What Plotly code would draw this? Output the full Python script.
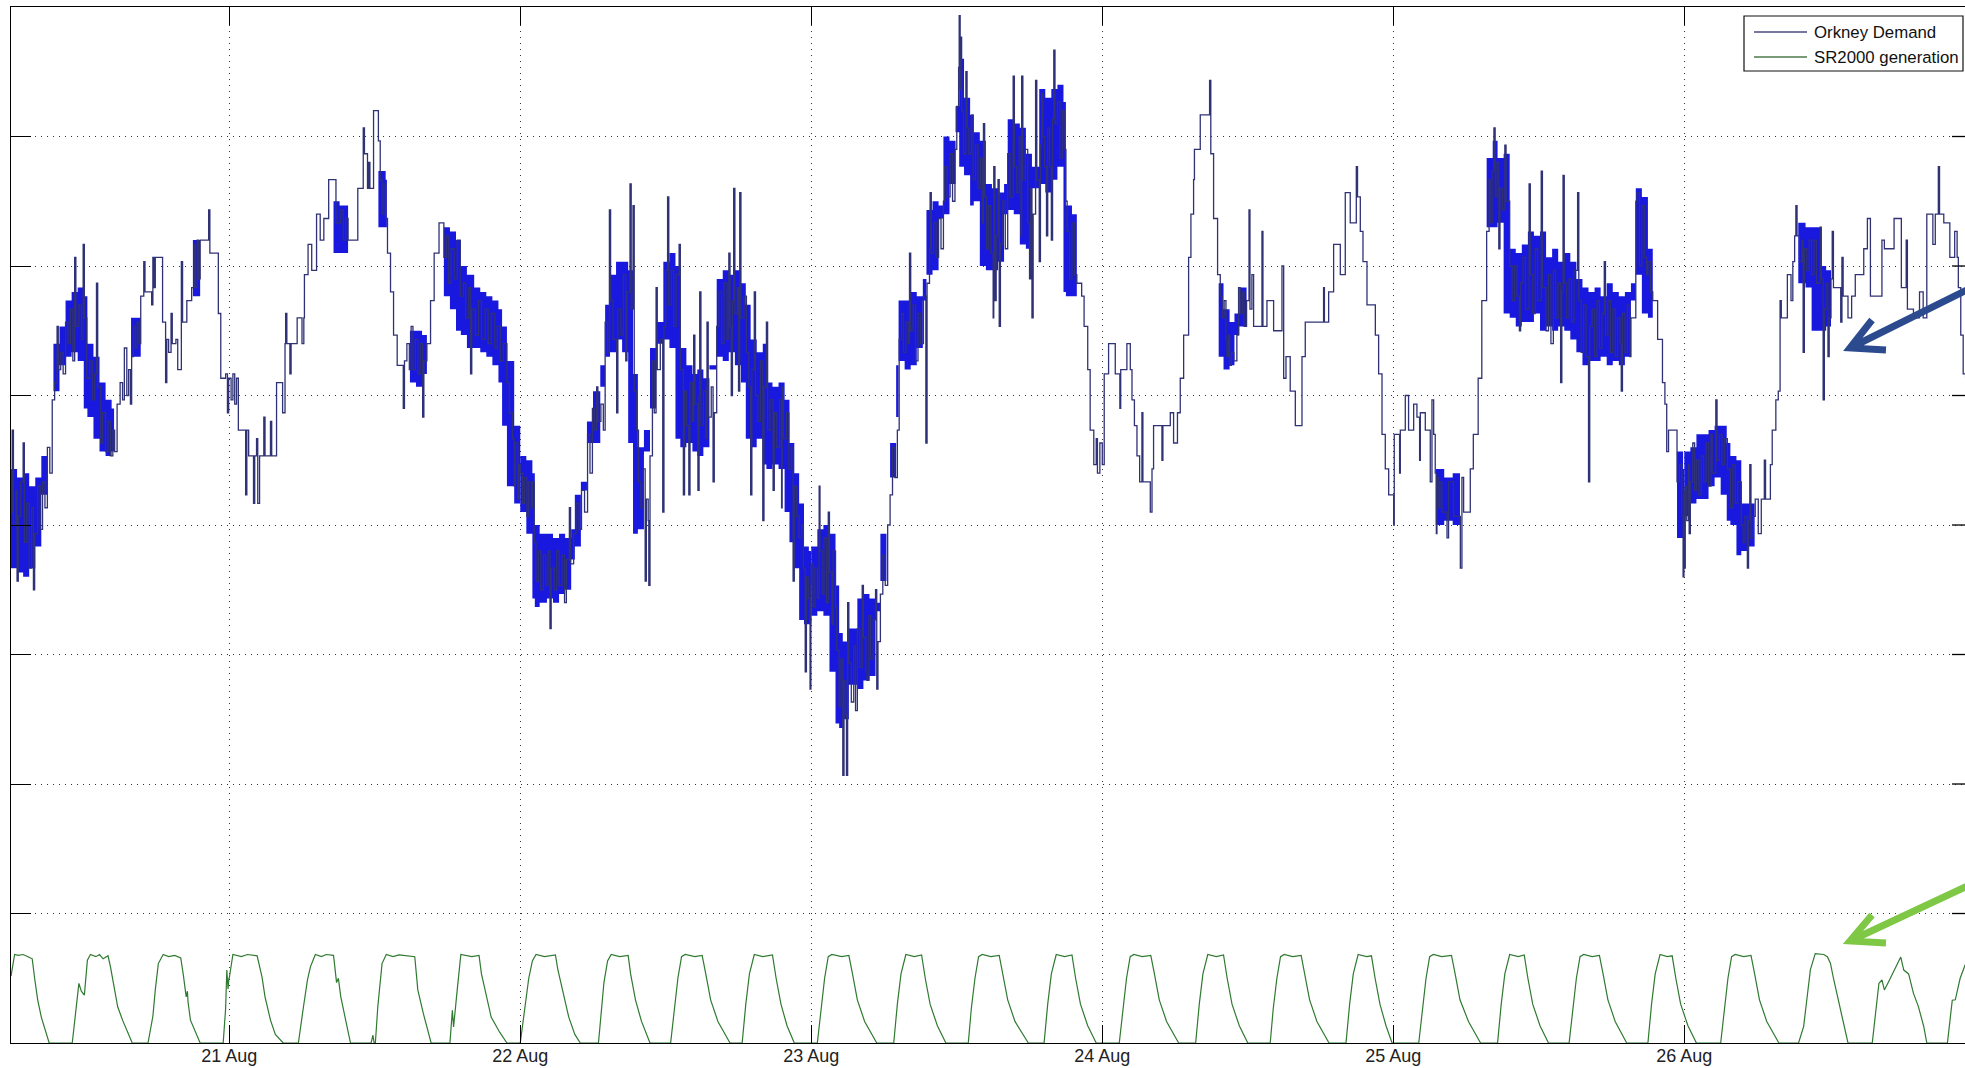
import pandas as pd
import plotly.graph_objects as go

# ---------------------------------------------------------------------------
# Orkney demand (MW), step samples as (hour of day, MW) for each day
# ---------------------------------------------------------------------------
demand_aug20 = [
    (6.0, 12.3), (6.1, 14.2), (6.2, 12.0), (6.4, 12.8), (6.5, 10.7), (6.6, 12.2), (6.8, 13.0),
    (7.0, 13.9), (7.1, 11.6), (7.3, 12.5), (7.5, 11.0), (7.7, 12.4), (7.85, 10.5), (7.95, 11.8),
    (8.2, 12.9), (8.4, 11.9), (8.6, 13.0), (8.8, 12.4), (9.0, 13.8), (9.2, 13.2), (9.4, 14.9),
    (9.6, 15.3), (9.8, 16.6), (9.9, 15.6), (10.1, 16.0), (10.3, 15.5), (10.5, 16.7), (10.7, 16.2),
    (10.9, 17.0), (11.1, 15.8), (11.25, 18.2), (11.35, 16.6), (11.6, 17.1), (11.8, 16.3),
    (11.95, 18.5), (12.05, 16.8), (12.25, 15.4), (12.5, 15.8), (12.7, 14.9), (12.9, 15.5),
    (13.05, 17.6), (13.15, 15.2), (13.4, 13.9), (13.55, 14.6), (13.8, 13.7), (14.0, 14.4),
    (14.2, 13.6), (14.4, 14.2), (14.55, 13.7), (14.75, 14.8), (15.0, 15.3), (15.2, 14.9),
    (15.35, 16.1), (15.55, 15.0), (15.7, 15.6), (15.85, 14.8), (15.95, 15.9), (16.1, 16.6),
    (16.25, 16.1), (16.4, 16.7), (16.55, 16.2), (16.7, 17.3), (16.95, 18.1), (17.05, 17.4),
    (17.6, 17.1), (17.7, 18.2), (17.8, 17.5), (17.9, 18.2), (18.5, 16.7), (18.75, 15.3),
    (18.85, 16.3), (19.0, 16.0), (19.2, 16.9), (19.3, 16.2), (19.6, 16.3), (19.75, 15.6),
    (20.05, 18.1), (20.15, 16.7), (20.5, 17.2), (20.9, 17.5), (21.1, 18.5), (21.2, 17.5),
    (21.35, 18.6), (21.45, 17.7), (21.6, 18.6), (22.3, 19.3), (22.4, 18.3), (23.1, 16.9),
    (23.3, 15.4), (23.7, 15.5), (23.85, 14.6), (23.95, 15.4),
]
demand_aug21 = [
    (0.0, 15.4), (0.15, 14.9), (0.3, 15.5), (0.45, 14.8), (0.6, 15.4), (0.75, 14.2), (1.35, 12.7),
    (1.45, 14.2), (1.6, 13.6), (2.0, 12.5), (2.1, 13.6), (2.25, 14.0), (2.35, 12.5), (2.5, 13.6),
    (2.85, 14.5), (2.95, 13.6), (3.4, 14.4), (3.5, 13.6), (3.9, 15.3), (4.4, 14.6), (4.6, 16.2),
    (4.65, 16.9), (4.75, 16.2), (5.0, 15.5), (5.1, 16.2), (5.6, 16.8), (6.0, 16.2), (6.15, 16.8),
    (6.2, 17.8), (6.5, 18.5), (6.8, 17.9), (7.2, 19.2), (7.5, 18.6), (7.8, 19.1), (8.2, 20.0),
    (8.8, 19.0), (9.2, 19.3), (9.4, 18.6), (9.6, 19.1), (9.8, 18.6), (10.6, 19.8), (11.05, 21.2),
    (11.15, 20.6), (11.4, 19.8), (11.5, 20.4), (11.6, 19.8), (11.9, 21.6), (12.3, 20.9),
    (12.45, 20.0), (12.6, 19.2), (12.75, 19.9), (12.9, 19.1), (13.05, 18.3), (13.3, 17.4),
    (13.55, 16.4), (13.85, 15.7), (14.35, 14.7), (14.45, 15.8), (14.65, 16.2), (14.85, 15.6),
    (15.0, 16.6), (15.15, 15.6), (15.35, 16.3), (15.55, 15.5), (15.75, 16.2), (15.95, 14.5),
    (16.05, 15.8), (16.3, 16.2), (16.6, 17.2), (16.9, 18.3), (17.3, 19.0), (17.7, 18.2),
    (17.9, 18.7), (18.1, 17.6), (18.3, 18.4), (18.55, 17.7), (18.8, 18.6), (19.05, 17.3),
    (19.3, 17.6), (19.5, 16.8), (19.75, 17.5), (19.9, 15.5), (20.0, 17.0), (20.3, 16.4),
    (20.55, 17.2), (20.8, 16.3), (21.1, 17.0), (21.35, 16.2), (21.6, 16.9), (21.9, 16.1),
    (22.1, 16.6), (22.35, 15.8), (22.6, 16.2), (22.9, 15.3), (23.1, 14.6), (23.35, 14.0),
    (23.5, 12.9), (23.6, 13.9), (23.8, 12.6), (23.9, 13.4),
]
demand_aug22 = [
    (0.0, 13.2), (0.2, 12.5), (0.35, 13.1), (0.55, 12.2), (0.7, 13.0), (0.9, 12.4), (1.0, 13.0),
    (1.15, 11.6), (1.3, 10.7), (1.5, 11.4), (1.7, 10.5), (1.9, 11.3), (2.1, 10.6), (2.3, 11.4),
    (2.45, 9.6), (2.55, 11.0), (2.8, 10.5), (3.0, 11.4), (3.2, 10.6), (3.45, 11.3), (3.65, 10.2),
    (3.8, 11.2), (4.05, 12.4), (4.15, 11.1), (4.4, 11.8), (4.6, 12.5), (4.85, 11.9), (5.05, 12.8),
    (5.3, 12.3), (5.55, 14.1), (5.75, 13.2), (5.95, 14.7), (6.1, 14.2), (6.3, 15.2), (6.4, 14.4),
    (6.65, 14.8), (6.85, 14.2), (7.0, 16.7), (7.2, 16.0), (7.35, 19.3), (7.45, 17.2), (7.65, 16.3),
    (7.95, 14.6), (8.05, 17.0), (8.3, 16.4), (8.5, 17.8), (8.7, 15.8), (8.8, 17.4), (9.05, 19.9),
    (9.15, 17.0), (9.3, 19.4), (9.4, 15.1), (9.6, 14.2), (9.75, 13.0), (9.95, 12.4), (10.15, 13.3),
    (10.3, 10.7), (10.4, 12.6), (10.55, 12.1), (10.6, 10.6), (10.7, 13.6), (10.9, 15.8),
    (11.05, 14.6), (11.2, 17.5), (11.3, 15.6), (11.55, 16.3), (11.75, 12.3), (11.85, 16.6),
    (12.0, 17.9), (12.15, 19.6), (12.25, 17.1), (12.45, 17.9), (12.65, 16.6), (12.85, 17.8),
    (13.1, 18.5), (13.2, 15.6), (13.45, 12.7), (13.55, 15.1), (13.7, 14.3), (13.9, 12.7),
    (14.0, 15.3), (14.2, 14.4), (14.3, 16.4), (14.4, 14.8), (14.65, 12.8), (14.75, 15.0),
    (14.8, 17.4), (14.9, 14.3), (15.1, 15.1), (15.3, 14.0), (15.4, 16.7), (15.5, 14.5),
    (15.75, 15.2), (15.9, 13.0), (16.0, 14.6), (16.2, 16.6), (16.4, 17.4), (16.6, 16.2),
    (16.8, 17.6), (17.05, 16.3), (17.2, 18.3), (17.3, 16.6), (17.4, 15.0), (17.5, 17.2),
    (17.6, 19.8), (17.7, 16.9), (17.9, 17.5), (18.0, 15.1), (18.1, 19.7), (18.2, 16.8),
    (18.45, 17.3), (18.65, 16.0), (18.85, 15.2), (19.0, 12.7), (19.1, 15.6), (19.3, 17.4),
    (19.4, 15.0), (19.6, 14.4), (19.8, 15.8), (20.0, 12.1), (20.1, 15.2), (20.3, 16.7),
    (20.4, 14.2), (20.6, 14.9), (20.85, 12.8), (20.95, 14.6), (21.15, 13.8), (21.4, 14.9),
    (21.55, 12.4), (21.6, 15.2), (21.7, 14.0), (21.95, 14.6), (22.15, 13.3), (22.35, 13.8),
    (22.5, 10.7), (22.6, 12.9), (22.8, 12.2), (23.0, 11.7), (23.2, 12.0), (23.35, 11.0),
    (23.5, 8.6), (23.6, 10.8), (23.75, 10.3), (23.9, 8.2), (23.97, 10.6),
]
demand_aug23 = [
    (0.0, 11.1), (0.15, 10.1), (0.3, 11.0), (0.5, 10.3), (0.65, 12.9), (0.72, 11.4), (0.9, 10.4),
    (1.05, 11.7), (1.25, 10.2), (1.4, 12.3), (1.5, 10.9), (1.7, 9.7), (1.8, 11.4), (2.0, 10.1),
    (2.1, 9.1), (2.3, 7.8), (2.45, 8.9), (2.6, 6.2), (2.7, 8.4), (2.85, 7.6), (2.9, 6.2),
    (3.0, 10.2), (3.1, 8.8), (3.3, 7.9), (3.5, 9.2), (3.65, 7.7), (3.8, 9.6), (4.0, 8.7),
    (4.2, 10.6), (4.3, 9.4), (4.5, 8.6), (4.6, 8.4), (4.75, 9.9), (4.9, 8.9), (5.1, 9.8),
    (5.3, 10.5), (5.4, 8.2), (5.5, 9.3), (5.7, 10.4), (5.9, 11.3), (6.1, 10.6), (6.3, 12.0),
    (6.5, 12.7), (6.7, 13.8), (6.9, 13.1), (7.1, 14.2), (7.25, 16.3), (7.45, 16.9), (7.6, 16.0),
    (7.8, 16.7), (8.0, 16.2), (8.1, 18.3), (8.2, 16.5), (8.4, 17.1), (8.6, 15.8), (8.8, 16.9),
    (9.0, 16.2), (9.25, 17.3), (9.45, 13.9), (9.55, 17.6), (9.75, 18.4), (9.8, 19.7), (9.9, 18.3),
    (10.1, 19.0), (10.3, 18.2), (10.5, 19.1), (10.7, 18.4), (10.9, 19.5), (11.0, 20.3),
    (11.2, 19.6), (11.45, 20.6), (11.65, 19.5), (11.85, 20.7), (12.0, 21.7), (12.15, 22.6),
    (12.2, 23.8), (12.28, 22.1), (12.32, 23.3), (12.4, 21.6), (12.55, 20.6), (12.75, 22.5),
    (12.85, 21.2), (13.0, 20.6), (13.2, 21.5), (13.35, 20.0), (13.55, 20.8), (13.75, 19.8),
    (13.95, 20.5), (14.1, 19.0), (14.2, 21.3), (14.3, 19.6), (14.45, 18.4), (14.6, 19.4),
    (14.8, 18.3), (15.0, 16.8), (15.05, 20.3), (15.15, 17.2), (15.25, 18.7), (15.4, 20.0),
    (15.5, 16.6), (15.6, 18.5), (15.8, 19.5), (16.0, 18.4), (16.2, 20.6), (16.4, 19.6),
    (16.65, 22.4), (16.75, 20.3), (16.95, 19.7), (17.15, 21.0), (17.3, 18.7), (17.35, 22.4),
    (17.45, 20.0), (17.65, 20.7), (17.85, 19.0), (18.0, 17.7), (18.1, 19.8), (18.2, 16.8),
    (18.3, 19.2), (18.5, 22.3), (18.6, 20.0), (18.8, 18.1), (18.9, 20.8), (19.0, 22.0),
    (19.1, 21.0), (19.25, 20.3), (19.4, 18.7), (19.5, 21.2), (19.65, 20.3), (19.8, 18.6),
    (19.9, 21.4), (20.0, 23.0), (20.1, 21.3), (20.3, 21.8), (20.5, 20.5), (20.7, 21.6),
    (20.85, 20.7), (21.0, 19.5), (21.1, 18.8), (21.3, 17.7), (21.5, 19.0), (21.7, 17.8),
    (21.9, 17.6), (22.3, 17.3), (22.5, 16.6), (22.8, 15.6), (23.0, 14.2), (23.3, 13.4),
    (23.5, 14.0), (23.6, 13.2), (23.8, 13.9),
]
demand_aug24 = [
    (0.0, 13.4), (0.16, 15.5), (0.52, 16.2), (1.07, 15.5), (1.45, 14.7), (1.52, 15.6),
    (2.03, 16.2), (2.31, 15.6), (2.45, 14.9), (2.65, 14.3), (2.86, 13.6), (3.08, 13.0),
    (3.27, 14.6), (3.35, 13.0), (3.96, 12.3), (4.1, 13.3), (4.23, 14.3), (4.92, 13.5), (5.0, 14.3),
    (5.61, 14.6), (5.88, 13.9), (6.2, 14.6), (6.43, 15.4), (6.71, 16.4), (7.12, 18.2),
    (7.31, 19.2), (7.53, 20.0), (7.6, 20.7), (8.08, 21.5), (8.85, 22.3), (8.95, 20.6),
    (9.18, 19.1), (9.51, 17.8), (9.73, 17.3), (9.9, 16.8), (10.05, 17.2), (10.2, 16.3),
    (10.28, 15.9), (10.4, 16.4), (10.5, 15.7), (10.65, 16.0), (10.85, 15.8), (11.1, 16.4),
    (11.24, 17.5), (11.38, 16.9), (11.55, 17.4), (11.7, 16.6), (11.9, 17.2), (12.1, 19.3),
    (12.18, 17.0), (12.34, 17.8), (12.48, 16.6), (13.17, 18.8), (13.25, 16.6), (13.58, 17.2),
    (14.13, 16.5), (14.82, 18.0), (14.96, 15.4), (15.15, 15.9), (15.5, 15.1), (15.92, 14.3),
    (16.47, 15.9), (16.74, 16.7), (18.25, 17.5), (18.32, 16.7), (18.67, 17.4), (19.08, 18.5),
    (19.63, 17.8), (20.04, 19.7), (20.45, 19.0), (20.95, 20.3), (21.05, 19.6), (21.28, 18.8),
    (21.5, 18.1), (21.83, 17.1), (22.52, 16.4), (22.79, 15.5), (23.07, 14.1), (23.34, 13.3),
    (23.62, 12.7),
]
demand_aug25 = [
    (0.0, 12.7), (0.03, 12.0), (0.08, 14.1), (0.52, 13.2), (0.58, 14.2), (0.99, 15.0),
    (1.26, 14.2), (1.68, 14.8), (1.95, 14.5), (2.17, 13.5), (2.23, 14.6), (2.64, 14.2),
    (3.05, 13.0), (3.19, 14.9), (3.33, 14.1), (3.46, 13.2), (3.55, 11.8), (3.6, 13.1),
    (3.75, 12.4), (3.85, 13.0), (4.01, 12.3), (4.43, 11.7), (4.56, 13.0), (4.98, 12.2),
    (5.53, 11.0), (5.66, 13.1), (5.8, 12.3), (6.35, 13.3), (6.6, 14.1), (7.0, 15.4), (7.3, 17.2),
    (7.7, 18.8), (7.9, 20.0), (8.0, 19.0), (8.15, 20.2), (8.3, 21.2), (8.4, 19.6), (8.55, 20.4),
    (8.7, 18.4), (8.8, 19.8), (9.0, 19.3), (9.2, 20.8), (9.3, 19.5), (9.6, 18.0), (9.8, 17.2),
    (10.0, 18.0), (10.2, 17.3), (10.4, 16.5), (10.5, 17.6), (10.7, 18.2), (10.9, 17.0),
    (11.2, 19.9), (11.3, 17.8), (11.5, 16.9), (11.7, 18.4), (11.9, 17.2), (12.2, 20.2),
    (12.3, 17.5), (12.6, 16.5), (12.8, 17.8), (13.0, 16.2), (13.2, 17.9), (13.4, 16.8),
    (13.6, 17.6), (13.8, 15.3), (13.9, 17.4), (14.0, 20.1), (14.1, 17.6), (14.3, 16.8),
    (14.5, 17.7), (14.7, 16.7), (14.9, 17.9), (15.2, 19.7), (15.3, 17.2), (15.5, 16.0),
    (15.7, 17.1), (15.9, 15.9), (16.1, 13.0), (16.2, 16.6), (16.4, 17.0), (16.6, 15.9),
    (16.8, 17.2), (17.0, 16.1), (17.2, 16.9), (17.4, 18.1), (17.5, 16.4), (17.7, 17.2),
    (17.9, 16.0), (18.1, 17.0), (18.3, 15.9), (18.5, 16.8), (18.7, 16.2), (18.8, 15.1),
    (18.9, 16.9), (19.1, 16.0), (19.3, 17.1), (19.5, 15.9), (19.6, 16.8), (20.0, 19.5),
    (20.1, 19.7), (20.3, 18.0), (20.5, 19.4), (20.7, 18.2), (20.9, 17.8), (21.0, 18.1),
    (21.2, 17.4), (21.4, 17.2), (21.8, 16.3), (22.2, 15.3), (22.4, 14.8), (22.55, 13.7),
    (22.7, 14.2), (23.1, 14.2), (23.4, 13.0), (23.6, 13.4), (23.8, 12.2), (23.9, 10.8),
    (23.97, 12.8),
]
demand_aug26 = [
    (0.0, 11.0), (0.08, 12.9), (0.2, 12.1), (0.35, 13.4), (0.4, 11.8), (0.5, 13.0), (0.7, 13.9),
    (0.85, 12.8), (1.0, 13.5), (1.2, 12.7), (1.4, 13.6), (1.6, 13.0), (1.8, 13.9), (2.0, 12.9),
    (2.2, 14.1), (2.3, 13.2), (2.6, 14.9), (2.7, 13.5), (2.9, 14.1), (3.1, 13.4), (3.3, 14.0),
    (3.55, 13.3), (3.8, 12.4), (4.0, 13.4), (4.2, 12.5), (4.4, 13.0), (4.7, 12.0), (4.85, 11.6),
    (5.0, 12.2), (5.2, 11.0), (5.3, 12.1), (5.4, 13.4), (5.5, 11.7), (5.7, 12.2), (5.85, 12.6),
    (6.1, 11.8), (6.35, 12.6), (6.6, 13.5), (6.7, 12.6), (7.1, 13.4), (7.25, 14.2), (7.55, 14.9),
    (7.75, 15.1), (7.9, 17.2), (8.0, 16.8), (8.5, 17.8), (8.8, 17.2), (8.95, 18.1), (9.1, 18.7),
    (9.2, 19.4), (9.3, 18.7), (9.5, 18.1), (9.7, 18.6), (9.8, 16.0), (9.9, 18.4), (10.1, 17.9),
    (10.3, 18.6), (10.5, 17.8), (10.7, 18.6), (10.9, 17.6), (11.2, 18.9), (11.3, 17.7),
    (11.45, 14.9), (11.55, 17.0), (11.7, 17.6), (11.85, 15.9), (11.95, 16.8), (12.1, 17.7),
    (12.2, 18.8), (12.3, 17.5), (12.9, 16.7), (13.0, 18.2), (13.1, 17.3), (13.5, 16.8),
    (13.8, 17.3), (14.1, 17.8), (14.8, 18.4), (15.1, 19.1), (15.35, 17.3), (16.3, 18.6),
    (16.5, 18.4), (17.3, 19.1), (17.9, 17.5), (18.3, 18.6), (18.4, 17.0), (18.9, 16.8),
    (19.4, 17.4), (19.7, 16.8), (20.0, 19.2), (20.5, 18.5), (20.7, 19.2), (20.95, 20.3),
    (21.05, 19.2), (21.4, 19.0), (21.9, 18.2), (22.3, 18.8), (22.5, 18.2), (22.6, 17.5),
    (22.8, 16.4), (23.0, 15.5), (23.2, 15.4),
]

# Core range of the fast fluctuation in the densely sampled stretches:
# (hour of day, low MW, high MW); each inner list is one stretch.
dense_aug20 = [
    [(6.0, 11.0, 13.3), (6.5, 11.0, 13.1), (7.0, 10.9, 13.2), (7.5, 10.8, 12.9), (8.0, 11.0, 13.1),
     (8.5, 11.5, 13.6), (9.0, 12.7, 14.6), (9.5, 14.6, 16.2), (10.0, 15.1, 16.6), (10.5, 15.7, 17.2),
     (11.0, 15.9, 17.4), (11.5, 16.0, 17.5), (12.0, 15.8, 17.3), (12.3, 14.7, 16.2), (12.8, 14.5, 15.9),
     (13.3, 14.0, 15.3), (13.8, 13.7, 14.9), (14.3, 13.6, 14.7), (14.5, 13.7, 14.6)],
    [(15.9, 15.9, 16.8), (16.7, 15.9, 16.9)],
    [(21.0, 17.4, 18.6), (21.6, 17.3, 18.7)],
]
dense_aug21 = [
    [(8.6, 18.4, 19.5), (9.1, 18.3, 19.4), (9.8, 18.3, 19.2)],
    [(12.3, 19.0, 20.2), (12.9, 18.9, 20.0), (13.0, 18.9, 19.9)],
    [(14.9, 15.3, 16.5), (15.4, 15.3, 16.5), (15.9, 15.2, 16.4), (16.3, 15.5, 16.5)],
    [(17.7, 17.3, 18.9), (18.2, 17.3, 18.8), (18.7, 17.0, 18.6), (19.1, 16.5, 18.0), (19.6, 16.4, 17.8),
     (20.2, 16.1, 17.5), (20.7, 16.1, 17.4), (21.2, 16.0, 17.3), (21.7, 15.9, 17.2), (22.2, 15.7, 17.0),
     (22.5, 15.3, 16.6), (22.9, 14.3, 15.8), (23.5, 12.9, 14.3), (24.0, 12.5, 13.7)],
]
dense_aug22 = [
    [(0.0, 12.4, 13.6), (0.5, 12.3, 13.5), (1.0, 11.8, 13.2), (1.2, 10.3, 12.0), (1.6, 10.1, 11.8),
     (2.2, 10.2, 11.8), (2.7, 10.3, 11.7), (3.2, 10.2, 11.8), (3.7, 10.4, 11.7), (4.2, 10.5, 11.9),
     (4.5, 11.2, 12.7), (5.0, 11.5, 13.0), (5.5, 12.8, 14.4), (6.0, 13.9, 15.1), (6.6, 13.9, 15.2),
     (7.0, 15.7, 17.1), (7.4, 15.9, 17.8), (7.9, 16.0, 18.1), (8.4, 16.3, 18.1), (8.9, 16.0, 17.9),
     (9.3, 13.9, 15.5), (9.7, 11.8, 13.8), (10.2, 11.9, 13.7), (10.7, 14.2, 16.1), (11.2, 14.7, 16.7),
     (11.8, 16.2, 18.1), (12.3, 16.3, 18.3), (12.8, 16.1, 18.0), (13.2, 14.0, 16.1), (13.7, 13.8, 15.7),
     (14.2, 13.9, 15.5), (14.6, 13.7, 15.6), (15.1, 13.6, 15.4), (15.6, 13.8, 15.6), (16.2, 15.7, 17.7),
     (16.7, 15.9, 17.9), (17.2, 15.8, 17.8), (17.7, 16.0, 17.9), (18.2, 15.7, 17.6), (18.6, 15.3, 17.1),
     (19.0, 14.0, 16.3), (19.5, 13.8, 16.0), (20.0, 14.0, 16.2), (20.3, 13.4, 15.3), (20.8, 13.3, 15.2),
     (21.3, 13.4, 15.3), (21.8, 13.3, 14.9), (22.2, 12.3, 13.9), (22.6, 11.6, 13.2), (23.0, 11.0, 12.5),
     (23.4, 9.8, 11.5), (23.8, 9.7, 11.4), (24.0, 9.7, 11.4)],
]
dense_aug23 = [
    [(0.0, 9.8, 11.5), (0.5, 9.9, 11.9), (1.0, 10.0, 12.0), (1.5, 9.9, 11.8), (2.0, 8.6, 10.6),
     (2.3, 7.4, 9.5), (2.6, 7.3, 9.3), (3.1, 7.5, 9.6), (3.8, 8.3, 10.3), (4.3, 8.2, 10.4),
     (4.8, 8.4, 10.3), (5.3, 8.5, 10.2), (5.7, 10.0, 11.8), (6.2, 10.7, 12.3), (6.5, 12.3, 13.9),
     (7.0, 13.1, 14.5), (7.2, 15.7, 17.2), (7.7, 15.8, 17.2), (8.2, 15.6, 17.4), (8.7, 15.7, 17.3),
     (9.2, 16.1, 17.7), (9.5, 17.2, 19.3), (10.0, 17.8, 19.5), (10.5, 17.9, 19.4), (10.9, 19.1, 21.0),
     (11.4, 19.2, 20.9), (11.9, 19.9, 21.7), (12.2, 21.1, 22.8), (12.6, 20.3, 21.9), (13.1, 20.1, 21.5),
     (13.4, 19.4, 21.1), (13.9, 19.5, 20.9), (14.4, 18.0, 19.9), (14.9, 17.9, 19.8), (15.4, 17.9, 19.7),
     (15.9, 18.1, 19.9), (16.2, 19.2, 21.4), (16.7, 19.3, 21.3), (17.2, 19.2, 21.2), (17.7, 18.5, 20.6),
     (18.2, 18.4, 20.3), (18.8, 19.8, 22.1), (19.3, 19.9, 21.9), (19.8, 19.7, 22.1), (20.3, 20.0, 22.2),
     (20.8, 20.3, 21.8), (21.0, 17.4, 19.4), (21.5, 17.3, 19.2), (21.9, 17.3, 17.9)],
]
dense_aug24 = [
    [(9.6, 16.6, 17.6), (10.0, 15.9, 17.0), (10.5, 15.6, 16.7), (10.9, 15.7, 16.9), (11.3, 16.4, 17.5),
     (11.9, 16.6, 17.6)],
]
dense_aug25 = [
    [(3.5, 12.2, 13.3), (4.2, 12.0, 13.1), (4.9, 12.1, 13.2), (5.5, 12.0, 13.0)],
    [(7.7, 18.5, 20.5), (8.2, 18.9, 20.9), (8.6, 18.9, 20.5), (9.1, 19.0, 20.6), (9.6, 16.9, 18.4),
     (10.1, 16.8, 18.3), (10.6, 16.6, 18.5), (11.1, 16.7, 18.8), (11.6, 16.7, 18.7), (12.1, 16.9, 18.8),
     (12.6, 16.5, 18.2), (13.1, 16.6, 18.4), (13.6, 16.5, 18.1), (14.1, 16.6, 18.3), (14.6, 16.5, 18.1),
     (15.1, 16.3, 17.7), (15.6, 16.0, 17.5), (16.1, 15.7, 17.4), (16.6, 15.8, 17.5), (17.1, 15.8, 17.3),
     (17.6, 15.9, 17.6), (18.1, 15.7, 17.4), (18.6, 15.8, 17.3), (19.1, 15.7, 17.4), (19.6, 15.9, 17.2),
     (20.0, 17.6, 19.8), (20.5, 17.8, 19.6), (21.0, 16.9, 18.4), (21.4, 16.8, 17.6)],
    [(23.4, 11.8, 13.7), (23.9, 11.7, 13.3), (24.0, 11.7, 13.3)],
]
dense_aug26 = [
    [(0.0, 11.8, 13.7), (0.5, 12.2, 13.8), (1.0, 12.5, 14.1), (1.5, 12.6, 14.1), (2.0, 12.6, 14.2),
     (2.5, 12.9, 14.3), (3.0, 13.1, 14.3), (3.5, 12.7, 13.9), (3.8, 12.1, 13.6), (4.3, 12.0, 13.5),
     (4.7, 11.3, 12.5), (5.2, 11.4, 12.5), (5.8, 11.5, 12.7)],
    [(9.4, 17.6, 19.0), (10.0, 17.6, 18.9), (10.5, 17.5, 18.9), (11.2, 16.5, 18.0), (11.7, 16.5, 17.9),
     (12.1, 16.6, 17.6)],
]

# ---------------------------------------------------------------------------
# SR2000 tidal turbine output (MW), (hour of day, MW)
# ---------------------------------------------------------------------------
sr2000_aug20 = [
    (6.0, 1.55), (6.1, 1.7), (6.3, 2.05), (6.6, 2.03), (7.0, 2.05), (7.4, 2.0), (7.75, 1.95),
    (7.95, 1.5), (8.2, 1.0), (8.5, 0.6), (8.8, 0.3), (9.15, 0.0),
    (11.05, 0.0), (11.3, 0.7), (11.6, 1.38), (11.8, 1.2), (12.05, 1.11), (12.3, 1.92), (12.55, 2.05),
    (13.0, 2.0), (13.3, 2.05), (13.6, 1.95), (14.0, 2.02), (14.2, 1.77), (14.4, 1.46), (14.8, 0.84),
    (15.2, 0.53), (15.6, 0.25), (16.0, 0.0),
    (17.3, 0.0), (17.7, 0.62), (17.9, 1.23), (18.15, 1.84), (18.55, 2.05), (19.0, 2.0), (19.5, 2.03),
    (20.0, 1.97), (20.2, 1.6), (20.45, 1.07), (20.55, 1.2), (20.6, 0.95), (20.8, 0.53), (21.2, 0.25),
    (21.6, 0.0),
    (23.5, 0.0), (23.7, 0.8), (23.8, 1.69), (23.9, 1.25), (23.97, 1.5),
]
sr2000_aug21 = [
    (0.0, 1.5), (0.3, 2.05), (1.0, 2.0), (1.5, 2.05), (2.3, 2.02), (2.7, 1.53), (2.95, 1.07),
    (3.4, 0.53), (3.8, 0.2), (4.45, 0.0),
    (5.7, 0.0), (6.1, 0.8), (6.45, 1.46), (6.7, 1.77), (7.1, 2.05), (7.6, 2.0), (8.0, 2.05),
    (8.6, 2.03), (8.75, 1.6), (8.85, 1.4), (9.0, 1.5), (9.2, 1.07), (9.6, 0.53), (10.0, 0.0),
    (11.7, 0.0), (11.85, 0.18), (11.95, 0.0), (12.05, 0.0), (12.25, 0.84), (12.6, 1.84), (12.95, 2.05),
    (13.5, 2.0), (14.0, 2.04), (15.3, 2.0), (15.55, 1.23), (16.0, 0.69), (16.65, 0.0),
    (18.2, 0.0), (18.4, 0.76), (18.5, 0.37), (18.8, 1.23), (19.1, 2.05), (20.0, 2.0), (20.6, 2.03),
    (20.8, 1.6), (21.2, 1.1), (21.6, 0.6), (22.3, 0.25), (22.9, 0.0),
]
sr2000_aug22 = [
    (0.0, 0.0), (0.3, 0.7), (0.7, 1.5), (1.0, 1.9), (1.3, 2.05), (2.0, 2.0), (2.9, 2.04), (3.1, 1.7),
    (3.5, 1.2), (4.0, 0.6), (4.5, 0.2), (4.95, 0.0),
    (6.45, 0.0), (6.7, 0.9), (6.9, 1.4), (7.2, 1.9), (7.5, 2.05), (8.2, 2.0), (8.9, 2.03), (9.1, 1.6),
    (9.5, 1.0), (10.0, 0.5), (10.7, 0.0),
    (12.4, 0.0), (12.7, 0.8), (13.0, 1.5), (13.3, 2.0), (13.6, 2.05), (14.4, 2.0), (15.0, 2.03),
    (15.3, 1.6), (15.7, 1.0), (16.3, 0.5), (17.3, 0.0),
    (18.3, 0.0), (18.6, 0.9), (18.9, 1.6), (19.3, 2.05), (20.0, 2.0), (20.8, 2.04), (21.1, 1.5),
    (21.5, 0.9), (22.0, 0.4), (22.6, 0.0),
]
sr2000_aug23 = [
    (0.5, 0.0), (0.8, 0.8), (1.1, 1.5), (1.4, 2.0), (1.7, 2.05), (2.5, 2.0), (3.1, 2.03), (3.4, 1.6),
    (3.8, 1.0), (4.4, 0.5), (5.4, 0.0),
    (6.8, 0.0), (7.1, 0.9), (7.4, 1.6), (7.8, 2.05), (8.5, 2.0), (9.1, 2.04), (9.4, 1.5), (9.8, 0.9),
    (10.4, 0.4), (11.1, 0.0),
    (12.95, 0.0), (13.2, 0.8), (13.5, 1.5), (13.8, 2.0), (14.1, 2.05), (14.8, 2.0), (15.5, 2.03),
    (15.8, 1.6), (16.2, 1.0), (16.8, 0.5), (17.9, 0.0),
    (19.2, 0.0), (19.5, 0.9), (19.8, 1.6), (20.2, 2.05), (20.9, 2.0), (21.5, 2.04), (21.8, 1.5),
    (22.2, 0.9), (22.8, 0.4), (23.5, 0.0),
]
sr2000_aug24 = [
    (1.4, 0.0), (1.7, 0.8), (2.0, 1.5), (2.3, 2.0), (2.6, 2.05), (3.3, 2.0), (4.0, 2.03), (4.3, 1.6),
    (4.7, 1.0), (5.3, 0.5), (6.3, 0.0),
    (7.7, 0.0), (8.0, 0.9), (8.3, 1.6), (8.7, 2.05), (9.4, 2.0), (10.0, 2.04), (10.3, 1.5),
    (10.7, 0.9), (11.3, 0.4), (12.0, 0.0),
    (13.85, 0.0), (14.1, 0.8), (14.4, 1.5), (14.7, 2.0), (15.0, 2.05), (15.7, 2.0), (16.4, 2.03),
    (16.7, 1.6), (17.1, 1.0), (17.7, 0.5), (18.7, 0.0),
    (20.1, 0.0), (20.4, 0.9), (20.7, 1.6), (21.1, 2.05), (21.8, 2.0), (22.2, 2.02), (22.5, 1.5),
    (22.9, 0.9), (23.4, 0.4), (23.9, 0.0),
]
sr2000_aug25 = [
    (2.1, 0.0), (2.4, 0.8), (2.7, 1.5), (3.0, 2.0), (3.3, 2.05), (4.0, 2.0), (4.8, 2.03), (5.1, 1.6),
    (5.5, 1.0), (6.2, 0.5), (7.2, 0.0),
    (8.6, 0.0), (8.9, 0.9), (9.2, 1.6), (9.6, 2.05), (10.3, 2.0), (10.8, 2.04), (11.1, 1.5),
    (11.5, 0.9), (12.1, 0.4), (12.8, 0.0),
    (14.5, 0.0), (14.8, 0.8), (15.1, 1.5), (15.4, 2.0), (15.7, 2.05), (16.4, 2.0), (17.0, 2.03),
    (17.3, 1.6), (17.7, 1.0), (18.3, 0.5), (19.25, 0.0),
    (21.0, 0.0), (21.3, 0.9), (21.6, 1.6), (22.0, 2.05), (22.6, 2.0), (23.0, 2.02), (23.3, 1.5),
    (23.7, 0.9),
]
sr2000_aug26 = [
    (0.3, 0.4), (1.0, 0.0),
    (3.0, 0.0), (3.3, 0.8), (3.6, 1.5), (3.9, 2.0), (4.2, 2.05), (4.9, 2.0), (5.5, 2.03), (5.8, 1.6),
    (6.2, 1.0), (6.8, 0.5), (7.8, 0.0),
    (9.42, 0.0), (9.84, 0.38), (10.1, 0.99), (10.4, 1.7), (10.8, 2.07), (11.5, 2.05), (11.8, 2.0),
    (12.05, 1.85), (12.3, 1.5), (12.7, 1.0), (13.1, 0.45), (13.5, 0.0),
    (15.5, 0.0), (16.05, 1.38), (16.3, 1.46), (16.5, 1.23), (16.9, 1.45), (17.85, 1.99), (18.1, 1.69),
    (18.5, 1.6), (18.9, 1.15), (19.3, 0.85), (19.75, 0.38), (20.0, 0.0),
    (21.7, 0.0), (22.1, 0.99), (22.35, 1.0), (22.75, 1.5), (23.15, 1.8), (23.3, 1.9),
]

DAYS = ["2013-08-20", "2013-08-21", "2013-08-22", "2013-08-23",
        "2013-08-24", "2013-08-25", "2013-08-26"]
demand_days = [demand_aug20, demand_aug21, demand_aug22, demand_aug23,
               demand_aug24, demand_aug25, demand_aug26]
dense_days = [dense_aug20, dense_aug21, dense_aug22, dense_aug23,
              dense_aug24, dense_aug25, dense_aug26]
sr2000_days = [sr2000_aug20, sr2000_aug21, sr2000_aug22, sr2000_aug23,
               sr2000_aug24, sr2000_aug25, sr2000_aug26]

Y_TICKS = [0, 3, 6, 9, 12, 15, 18, 21, 24]
X_START = pd.Timestamp("2013-08-20 06:00")
X_END = X_START + pd.Timedelta(hours=161.15)


def stamp(day, hour):
    return pd.Timestamp(day) + pd.Timedelta(hours=hour)


def series(days, per_day):
    xs, ys = [], []
    for day, rows in zip(days, per_day):
        for h, v in rows:
            xs.append(stamp(day, h))
            ys.append(v)
    return xs, ys


DEMAND_LINE = "#303276"
DEMAND_FILL = "#1818de"
SR_LINE = "#2f7a30"

fig = go.Figure()

# dense fluctuation core, drawn as stepped bands beneath the demand line
for day, stretches in zip(DAYS, dense_days):
    for stretch in stretches:
        t = [stamp(day, h) for h, _, _ in stretch]
        lo = [l for _, l, _ in stretch]
        hi = [u for _, _, u in stretch]
        fig.add_trace(go.Scatter(
            x=t + t[::-1], y=hi + lo[::-1], mode="lines", fill="toself",
            fillcolor=DEMAND_FILL, line=dict(width=0, shape="hv"),
            hoverinfo="skip", showlegend=False))

dx, dy = series(DAYS, demand_days)
fig.add_trace(go.Scatter(x=dx, y=dy, mode="lines", name="Orkney Demand",
                         line=dict(color=DEMAND_LINE, width=1.3, shape="hv"),
                         showlegend=False))

sx, sy = series(DAYS, sr2000_days)
fig.add_trace(go.Scatter(x=sx, y=sy, mode="lines", name="SR2000 generation",
                         line=dict(color=SR_LINE, width=1.2),
                         showlegend=False))

# ---------------------------------------------------------------------------
# layout
# ---------------------------------------------------------------------------
W, H = 1965, 1068
PL, PT, PW, PH = 11, 7, 1954, 1036


def px(x):
    return (x - PL) / PW


def py(y):
    return (PT + PH - y) / PH


FONT = "Liberation Sans, Arial, sans-serif"
GRID_DASH = "1px,5px"

shapes = []
# right-hand tick stubs
for v in Y_TICKS[1:-1]:
    shapes.append(dict(type="line", xref="paper", yref="y", x0=px(1952), x1=px(1966),
                       y0=v, y1=v, line=dict(color="#000", width=1.3)))

# legend frame and samples
shapes.append(dict(type="rect", xref="paper", yref="paper", x0=px(1744), x1=px(1963),
                   y0=py(71), y1=py(16), line=dict(color="#111", width=1.2),
                   fillcolor="white", layer="above"))
shapes.append(dict(type="line", xref="paper", yref="paper", x0=px(1754), x1=px(1807),
                   y0=py(32), y1=py(32), line=dict(color="#4a4a80", width=1.3)))
shapes.append(dict(type="line", xref="paper", yref="paper", x0=px(1754), x1=px(1807),
                   y0=py(57), y1=py(57), line=dict(color="#4d7a4d", width=1.3)))


def arrow(tail, tip, wing1, wing2):
    return (f"M {px(tail[0])} {py(tail[1])} L {px(tip[0])} {py(tip[1])} "
            f"M {px(wing1[0])} {py(wing1[1])} L {px(tip[0])} {py(tip[1])} "
            f"L {px(wing2[0])} {py(wing2[1])}")


shapes.append(dict(type="path", xref="paper", yref="paper",
                   path=arrow((1995, 276), (1850, 348), (1872, 320), (1886, 350)),
                   line=dict(color="#2c4b8e", width=7)))
shapes.append(dict(type="path", xref="paper", yref="paper",
                   path=arrow((1995, 873), (1850, 941), (1872, 915), (1886, 943)),
                   line=dict(color="#7ec845", width=7)))

annotations = [
    dict(text="Orkney Demand", xref="paper", yref="paper", x=px(1812), y=py(32),
         xanchor="left", yanchor="middle", showarrow=False,
         font=dict(family=FONT, size=16.8, color="#111")),
    dict(text="SR2000 generation", xref="paper", yref="paper", x=px(1812), y=py(57),
         xanchor="left", yanchor="middle", showarrow=False,
         font=dict(family=FONT, size=16.8, color="#111")),
]

fig.update_layout(
    width=W, height=H,
    margin=dict(l=PL, r=W - PL - PW, t=PT, b=H - PT - PH, autoexpand=False),
    paper_bgcolor="white", plot_bgcolor="white",
    showlegend=False,
    shapes=shapes, annotations=annotations,
    font=dict(family=FONT, size=18, color="#222"),
    xaxis=dict(
        type="date", range=[X_START, X_END], automargin=False,
        tick0="2013-08-21", dtick=86400000, tickformat="%d %b",
        ticks="inside", ticklen=18, tickwidth=1, tickcolor="#000",
        showline=True, linecolor="#000", linewidth=1.3, mirror="ticks",
        showgrid=True, gridcolor="#333", gridwidth=1, griddash=GRID_DASH,
        zeroline=False, ticklabelstandoff=-4,
        tickfont=dict(family=FONT, size=18, color="#222"),
    ),
    yaxis=dict(
        range=[0, 24], tickvals=Y_TICKS, showticklabels=False, automargin=False,
        ticks="inside", ticklen=20, tickwidth=1.3, tickcolor="#000",
        showline=True, linecolor="#000", linewidth=1.3, mirror=False,
        showgrid=True, gridcolor="#333", gridwidth=1, griddash=GRID_DASH,
        zeroline=False,
    ),
)

fig.write_html("out.html")
